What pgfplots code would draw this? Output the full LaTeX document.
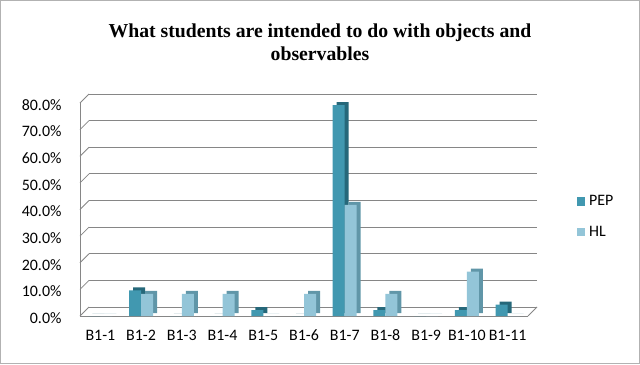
\documentclass[border=0pt]{standalone}
\usepackage{pgfplots}
\pgfplotsset{compat=1.18}
\usepackage{pgfplotstable}
\usepackage{fontspec}
\setmainfont{Carlito}
\newfontfamily\titlefont{Liberation Serif}
\definecolor{pepF}{RGB}{65,152,176}
\definecolor{pepS}{RGB}{38,104,122}
\definecolor{hlF}{RGB}{147,197,216}
\definecolor{hlS}{RGB}{96,150,168}
\definecolor{gridc}{RGB}{134,134,134}
\pgfplotstableread{
x pep hl
0 0 0
1 9.6 8.3
2 0 8.3
3 0 8.3
4 2.2 0
5 0 8.3
6 79.2 41.7
7 2.2 8.3
8 0 0
9 2.2 16.7
10 4.3 0
}\datatable
\begin{document}
\begin{tikzpicture}[x=1bp,y=1bp]
\useasboundingbox (0,0) rectangle (640,364);
\draw[gray!60, line width=1.4bp] (0.7,0.7) rectangle (639.3,363.3);
\node[font=\titlefont\bfseries\fontsize{19.8}{23}\selectfont, align=center] at (320,321.5) {What students are intended to do with objects and\\observables};
\begin{axis}[
  at={(80bp,48bp)}, anchor=south west, scale only axis,
  width=448bp, height=213bp,
  xmin=-0.5, xmax=10.5, ymin=0, ymax=80, clip=false,
  axis x line*=bottom, axis y line*=left,
  axis line style={gridc, line width=0.8bp},
  xtick={0,...,10},
  xticklabels={B1-1,B1-2,B1-3,B1-4,B1-5,B1-6,B1-7,B1-8,B1-9,B1-10,B1-11},
  ytick={0,10,...,80},
  major tick length=0,
  ymajorgrids,
  major grid style={gridc, line width=0.8bp, xshift=9bp, yshift=9bp},
  /pgf/number format/assume math mode=true,
  yticklabel={\pgfmathprintnumber[fixed,fixed zerofill,precision=1]{\tick}\%},
  ticklabel style={font=\fontsize{16}{19}\selectfont},
  xticklabel style={yshift=-10bp, text height=11bp, text depth=2bp},
  yticklabel style={xshift=-15bp, yshift=-2bp},
  legend style={at={(1.108,0.467)}, anchor=west, draw=none, fill=none,
    font=\fontsize{16}{19}\selectfont, row sep=15bp, inner sep=0pt,
    nodes={inner xsep=4bp}},
  legend cell align=left,
  legend image code/.code={\fill[#1] (0bp,-4.5bp) rectangle (8.5bp,4bp);},
]
\addplot[ybar, bar width=12bp, bar shift=-2bp, yshift=3bp, fill=pepS, draw=none, forget plot] table[x=x,y=pep]{\datatable};
\addplot[ybar, bar width=12bp, bar shift=-6bp, fill=pepF, draw=none] table[x=x,y=pep]{\datatable};
\addplot[ybar, bar width=12bp, bar shift=10bp, yshift=3bp, fill=hlS, draw=none, forget plot] table[x=x,y=hl]{\datatable};
\addplot[ybar, bar width=12bp, bar shift=6bp, fill=hlF, draw=none] table[x=x,y=hl]{\datatable};
\legend{PEP,HL}
\pgfplotsinvokeforeach{0,10,20,30,40,50,60,70,80}{\draw[gridc, line width=0.8bp] (axis cs:-0.5,#1) -- ++(9bp,9bp);}
\draw[gridc, line width=0.8bp] (axis cs:10.5,0) -- ++(9bp,9bp);
\end{axis}
\end{tikzpicture}
\end{document}
